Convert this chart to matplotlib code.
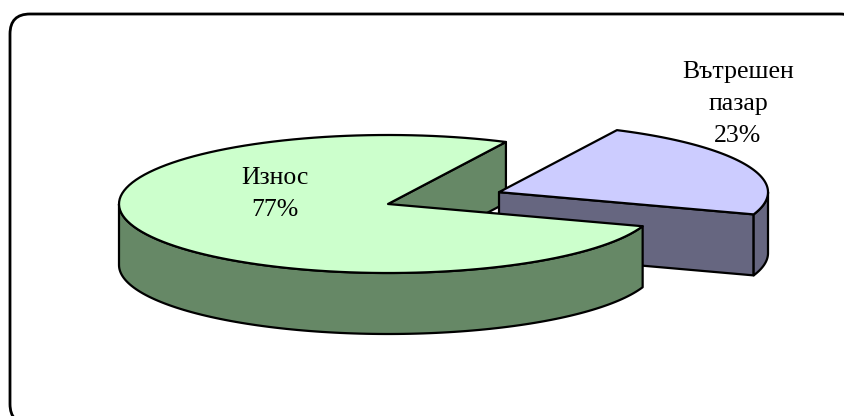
import numpy as np
import matplotlib.pyplot as plt
from matplotlib.patches import Polygon, FancyBboxPatch

# data
labels = ['Износ', 'Вътрешен\nпазар']
shares = [77, 23]
top_colors = ['#CCFFCC', '#CCCCFF']
side_colors = ['#668866', '#666680']
explode = [0.0, 0.447]

# 3d pie geometry (pixel units)
CX, CY = 388, 204
A, B = 269, 69
DEPTH = 61
START = 64.0


def arc(cx, cy, t0, t1, n=120):
	t = np.radians(np.linspace(t0, t1, n))
	return np.column_stack([cx + A*np.cos(t), cy - B*np.sin(t)])


def add_poly(ax, pts, color):
	ax.add_patch(Polygon(pts, closed=True, facecolor=color, edgecolor='black',
		linewidth=1.6, joinstyle='round'))


def slice_parts(cx, cy, t0, t1):
	parts = {}
	top = np.vstack([[cx, cy], arc(cx, cy, t0, t1)])
	parts['top'] = top
	# outer wall: only the front half (180..360) is visible
	walls = []
	for k in (-360, 0, 360):
		lo = max(t0, 180 + k)
		hi = min(t1, 360 + k)
		if hi > lo:
			a = arc(cx, cy, lo, hi)
			walls.append(np.vstack([a, a[::-1] + [0, DEPTH]]))
	parts['walls'] = walls
	faces = []
	if np.cos(np.radians(t0)) > 0:
		p = arc(cx, cy, t0, t0, 1)[0]
		faces.append(np.array([[cx, cy], p, p + [0, DEPTH], [cx, cy + DEPTH]]))
	if np.cos(np.radians(t1)) < 0:
		p = arc(cx, cy, t1, t1, 1)[0]
		faces.append(np.array([[cx, cy], p, p + [0, DEPTH], [cx, cy + DEPTH]]))
	parts['faces'] = faces
	return parts


fig = plt.figure(figsize=(8.45, 4.16), dpi=100)
ax = fig.add_axes([0, 0, 1, 1])
ax.set_xlim(0, 845)
ax.set_ylim(416, 0)
ax.axis('off')

# chart frame (runs off the right and bottom edge)
ax.add_patch(FancyBboxPatch((10, 14), 850, 410, boxstyle='round,pad=0,rounding_size=20',
	facecolor='white', edgecolor='black', linewidth=2))

total = float(sum(shares))
slices = []
t = START
for i, s in enumerate(shares):
	span = 360.0 * s / total
	mid = np.radians(t + span/2)
	cx = CX + explode[i]*A*np.cos(mid)
	cy = CY - explode[i]*B*np.sin(mid)
	slices.append(slice_parts(cx, cy, t, t + span))
	t += span

green, blue = slices
for f in green['faces']:
	add_poly(ax, f, side_colors[0])
for f in blue['faces']:
	add_poly(ax, f, side_colors[1])
for w in blue['walls']:
	add_poly(ax, w, side_colors[1])
add_poly(ax, blue['top'], top_colors[1])
for w in green['walls']:
	add_poly(ax, w, side_colors[0])
add_poly(ax, green['top'], top_colors[0])

font = dict(family='Liberation Serif', fontsize=18.5, ha='center', va='center', linespacing=1.6)
ax.text(275, 194, labels[0] + '\n' + str(shares[0]) + '%', **font)
ax.text(738, 104, labels[1] + '\n' + str(shares[1]) + '%', **font)

fig.savefig('out.png', dpi=100)
